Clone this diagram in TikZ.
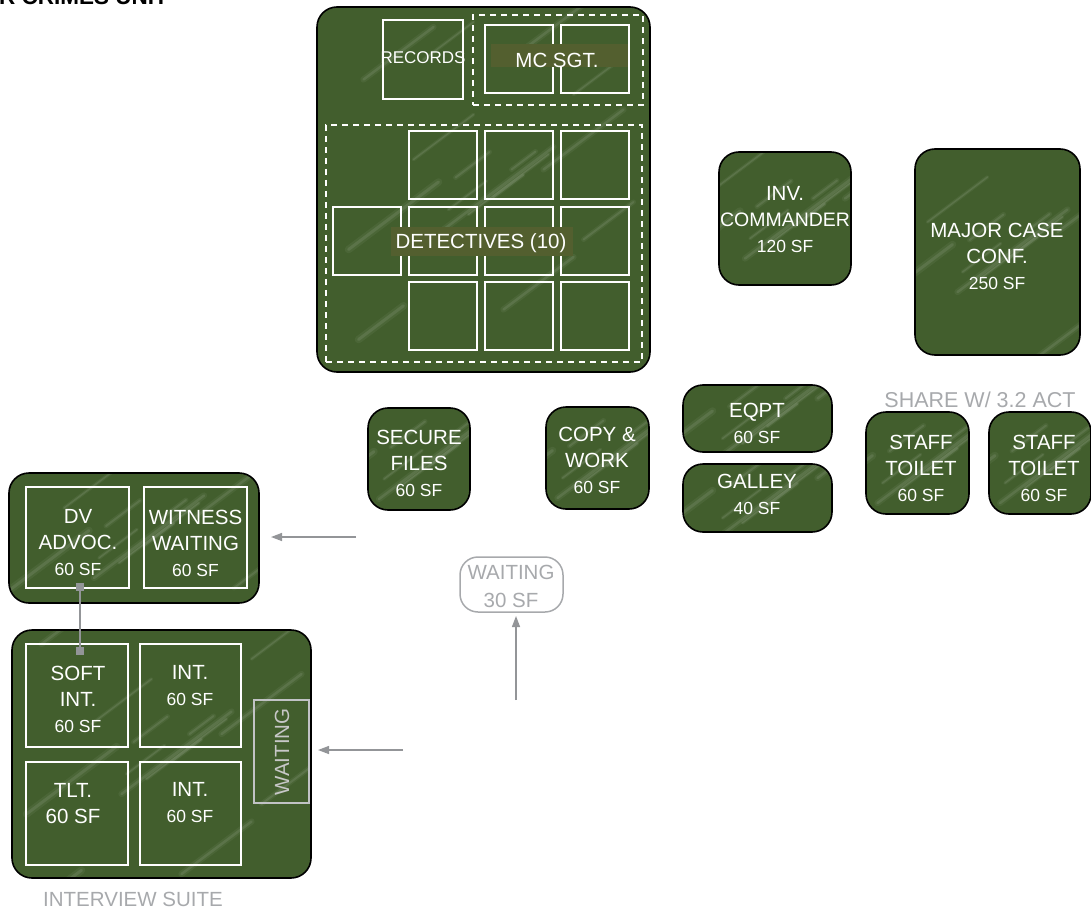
\documentclass[tikz,border=0pt]{standalone}
\usepackage{fontspec}
\setmainfont{Liberation Sans}
\usetikzlibrary{arrows.meta}
\definecolor{bgreen}{HTML}{425E2D}
\definecolor{bandc}{HTML}{535F2F}
\definecolor{greyl}{HTML}{939598}
\definecolor{greyt}{HTML}{A7A9AC}
\newcommand{\subf}{\fontsize{17.5}{21}\selectfont}
\newcommand{\RN}[6]{%
  \pgfmathsetmacro\cx{(#3+#5)/2}\pgfmathsetmacro\cy{(#4+#6)/2}%
  \pgfmathsetmacro\wx{#5-#3}\pgfmathsetmacro\wy{#6-#4}%
  \node[#2,minimum width=\wx pt,minimum height=\wy pt] (#1) at (\cx,\cy) {};}
\tikzset{
  x=1pt,y=-1pt,
  streakline/.style={white,line cap=round},
  streaks/.style={path picture={
    \foreach \dx/\dy/\len/\wd in {-120/-110/70/2.5,-60/-130/50/1.5,40/-140/60/2.5,90/-95/45/1.5,
       -135/60/90/3,-40/40/110/2.5,-15/25/80/1.5,60/-20/80/2.5,100/50/50/2,
       -70/-30/60/1.5,20/120/70/2.5,-125/150/45/3,-28/-12/34/2,-35/20/38/1.5,10/8/30/1.5,28/-20/24/2}{
      \draw[streakline,opacity=.05,line width=2.5*\wd pt]
        ([shift={(\dx,\dy)}]path picture bounding box.center) -- ++(\len,-0.75*\len);
      \draw[streakline,opacity=.09,line width=\wd pt]
        ([shift={(\dx,\dy)}]path picture bounding box.center) -- ++(\len,-0.75*\len);
    }}},
  block/.style={draw=black,line width=1.6pt,fill=bgreen,rounded corners=20pt,inner sep=0pt,streaks},
  room/.style={draw=white,line width=1.5pt,inner sep=0pt},
  dashbox/.style={draw=white,line width=1.4pt,dash pattern=on 6pt off 5pt,inner sep=0pt},
  greybox/.style={draw=greyt,line width=1.5pt,rounded corners=18pt,inner sep=0pt},
  waitbox/.style={draw=greyt!70!white,line width=1.5pt,inner sep=0pt},
  band/.style={fill=bandc,inner sep=0pt},
  lbl/.style={text=white,align=center,inner sep=0pt,font=\fontsize{20.5}{26}\selectfont},
  grey label/.style={text=greyt,align=center,inner sep=0pt,font=\fontsize{20.5}{28}\selectfont},
  arrowline/.style={draw=greyl,line width=1.4pt,-{Triangle[length=11pt,width=8pt]}},
  linkline/.style={draw=greyl,line width=1.5pt},
  endsq/.style={fill=greyl,minimum size=8pt,inner sep=0pt},
}
\begin{document}
\begin{tikzpicture}
\useasboundingbox (0,0) rectangle (1091,909);
\node[anchor=base west,inner sep=0pt,font=\fontsize{22.5}{24}\selectfont\bfseries] (title) at (-1,5) {R CRIMES UNIT};

% Detectives block
\RN{main}{block}{317}{7}{650}{372}
\RN{rec}{room}{383}{20}{463}{99}
\RN{mcdash}{dashbox}{473}{15}{643}{105}
\RN{mca}{room}{485}{25}{553}{93}
\RN{mcb}{room}{561}{25}{629}{93}
\RN{mcband}{band}{491}{44}{628}{67}
\RN{detdash}{dashbox}{326}{125}{642}{362}
\RN{da}{room}{409}{131}{477}{199}
\RN{db}{room}{485}{131}{553}{199}
\RN{dc}{room}{561}{131}{629}{199}
\RN{dl}{room}{333}{207}{401}{275}
\RN{dd}{room}{409}{207}{477}{275}
\RN{de}{room}{485}{207}{553}{275}
\RN{df}{room}{561}{207}{629}{275}
\RN{dg}{room}{409}{282}{477}{350}
\RN{dh}{room}{485}{282}{553}{350}
\RN{di}{room}{561}{282}{629}{350}
\RN{detband}{band}{391}{227}{573}{256}
\node[lbl,font=\fontsize{17}{20}\selectfont] (t-rec) at (423,58) {RECORDS};
\node[lbl] (t-mc) at (557,60) {MC SGT.};
\node[lbl] (t-det) at (481,243) {DETECTIVES (10)};

% Offices
\RN{inv}{block}{719}{152}{851}{285}
\node[lbl] (t-inv) at (785,220) {INV.\\\fontsize{19.5}{26}\selectfont COMMANDER\\\subf 120 SF};
\RN{major}{block}{915}{149}{1080}{355}
\node[lbl] (t-major) at (997,256) {MAJOR CASE\\CONF.\\\subf 250 SF};

\RN{secure}{block}{368}{408}{470}{510}
\node[lbl] (t-secure) at (419,463) {SECURE\\FILES\\\subf 60 SF};
\RN{copy}{block}{546}{407}{649}{509}
\node[lbl] (t-copy) at (597,460) {COPY \&\\WORK\\\subf 60 SF};
\RN{eqpt}{block}{683}{385}{832}{452}
\node[lbl] (t-eqpt) at (757,423) {EQPT\\\subf 60 SF};
\RN{galley}{block}{683}{464}{832}{532}
\node[lbl] (t-galley) at (757,494) {GALLEY\\\subf 40 SF};
\RN{stfa}{block}{866}{412}{969}{514}
\node[lbl] (t-stfa) at (921,468) {STAFF\\TOILET\\\subf 60 SF};
\RN{stfb}{block}{989}{412}{1091}{514}
\node[lbl] (t-stfb) at (1044,468) {STAFF\\TOILET\\\subf 60 SF};
\node[grey label,font=\fontsize{21.5}{28}\selectfont] (t-share) at (980,400) {SHARE W/ 3.2 ACT};

% Waiting
\RN{wait}{greybox}{460}{557}{563}{612}
\node[grey label] (t-wait) at (511,586) {WAITING\\30 SF};
\coordinate (waitfrom) at (516,700);
\coordinate (waithead) at (516,616);
\draw[arrowline] (waitfrom) -- (waithead);

% DV group
\RN{dv}{block}{9}{473}{259}{603}
\RN{dvr}{room}{26}{487}{129}{588}
\RN{wit}{room}{144}{487}{247}{588}
\node[lbl] (t-dv) at (78,543) {DV\\ADVOC.\\\subf 60 SF};
\node[lbl] (t-wit) at (195.500,543) {WITNESS\\WAITING\\\subf 60 SF};
\coordinate (dvfrom) at (356,537);
\coordinate (dvhead) at (271,537);
\draw[arrowline] (dvfrom) -- (dvhead);

% Interview suite
\RN{suite}{block}{12}{630}{311}{878}
\RN{soft}{room}{26}{644}{128}{747}
\RN{inta}{room}{140}{644}{241}{747}
\RN{tlt}{room}{26}{762}{128}{865}
\RN{intb}{room}{140}{762}{241}{865}
\RN{swait}{waitbox}{254}{700}{309}{803}
\node[lbl] (t-soft) at (78,699) {SOFT\\INT.\\\subf 60 SF};
\node[lbl] (t-inta) at (190,686) {INT.\\\subf 60 SF};
\node[lbl] (t-tlt) at (73,804) {TLT.\\60 SF};
\node[lbl] (t-intb) at (190,803) {INT.\\\subf 60 SF};
\node[lbl,text=white!78!black,rotate=90] (t-swait) at (282,752) {WAITING};
\coordinate (sfrom) at (403,750);
\coordinate (shead) at (318,750);
\draw[arrowline] (sfrom) -- (shead);
\node[endsq] (lnka) at (80,587) {};
\node[endsq] (lnkb) at (80,651) {};
\draw[linkline] (lnka) -- (lnkb);
\node[grey label] (t-suite) at (133,899) {INTERVIEW SUITE};
\end{tikzpicture}
\end{document}
